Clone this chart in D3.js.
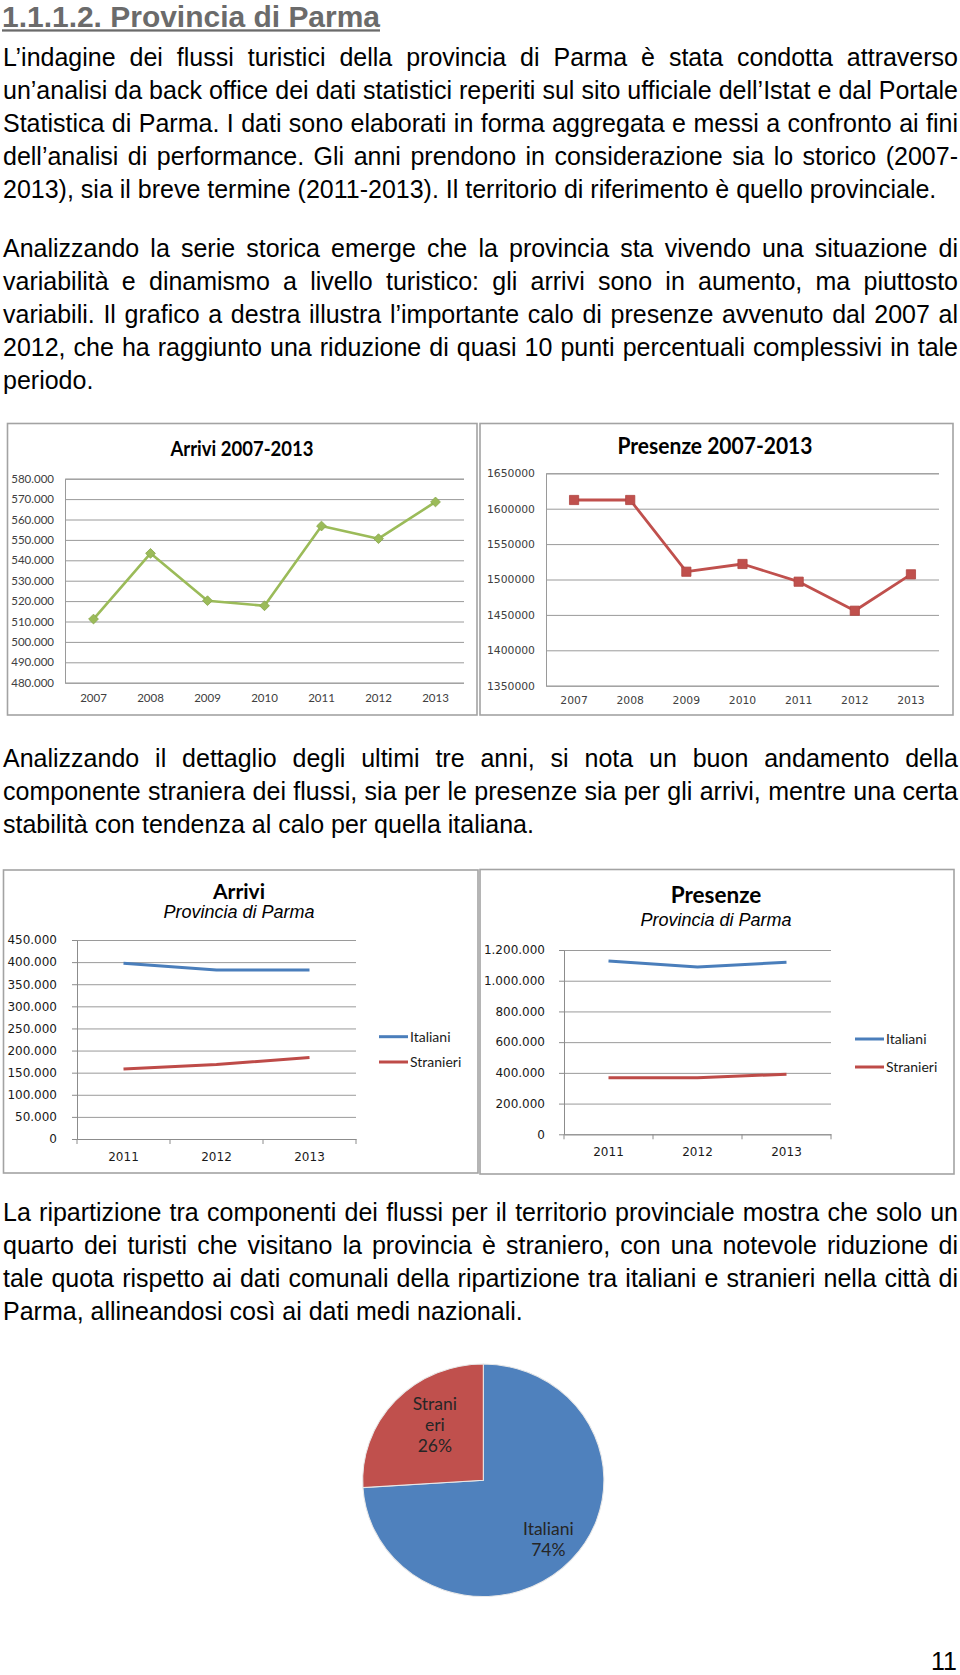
<!DOCTYPE html>
<html><head><meta charset="utf-8">
<script src="https://cdn.jsdelivr.net/npm/d3@7"></script>
<style>body{margin:0;background:#fff} svg{display:block}</style>
</head><body>
<svg id="page" width="960" height="1675"></svg>
<script>
// ---------------- DATA ----------------
const years7 = ["2007","2008","2009","2010","2011","2012","2013"];
const arrivi = [511200, 543400, 520200, 517700, 556800, 550600, 568600];
const presenze = [1612300, 1612300, 1511000, 1521900, 1496900, 1455900, 1507300];
const arriviTicks = [480000,490000,500000,510000,520000,530000,540000,550000,560000,570000,580000];
const presenzeTicks = [1350000,1400000,1450000,1500000,1550000,1600000,1650000];

const years3 = ["2011","2012","2013"];
const seriesNames = ["Italiani","Stranieri"];
const arriviItaliani = [397500, 382000, 382000];
const arriviStranieri = [158500, 168500, 184500];
const presenzeItaliani = [1129000, 1090000, 1120000];
const presenzeStranieri = [368500, 368500, 391000];
const arrivi3Ticks = [0,50000,100000,150000,200000,250000,300000,350000,400000,450000];
const presenze3Ticks = [0,200000,400000,600000,800000,1000000,1200000];

const pieLabels = ["Italiani","Stranieri"];
const pieValues = [74, 26];

const headTitle = "1.1.1.2. Provincia di Parma";
const para1 = [
 "L’indagine dei flussi turistici della provincia di Parma è stata condotta attraverso",
 "un’analisi da back office dei dati statistici reperiti sul sito ufficiale dell’Istat e dal Portale",
 "Statistica di Parma. I dati sono elaborati in forma aggregata e messi a confronto ai fini",
 "dell’analisi di performance. Gli anni prendono in considerazione sia lo storico (2007-",
 "2013), sia il breve termine (2011-2013). Il territorio di riferimento è quello provinciale."];
const para2 = [
 "Analizzando la serie storica emerge che la provincia sta vivendo una situazione di",
 "variabilità e dinamismo a livello turistico: gli arrivi sono in aumento, ma piuttosto",
 "variabili. Il grafico a destra illustra l’importante calo di presenze avvenuto dal 2007 al",
 "2012, che ha raggiunto una riduzione di quasi 10 punti percentuali complessivi in tale",
 "periodo."];
const para3 = [
 "Analizzando il dettaglio degli ultimi tre anni, si nota un buon andamento della",
 "componente straniera dei flussi, sia per le presenze sia per gli arrivi, mentre una certa",
 "stabilità con tendenza al calo per quella italiana."];
const para4 = [
 "La ripartizione tra componenti dei flussi per il territorio provinciale mostra che solo un",
 "quarto dei turisti che visitano la provincia è straniero, con una notevole riduzione di",
 "tale quota rispetto ai dati comunali della ripartizione tra italiani e stranieri nella città di",
 "Parma, allineandosi così ai dati medi nazionali."];
const pageNumber = "11";

// ---------------- DRAW ----------------
const svg = d3.select("#page");
svg.append("rect").attr("width",960).attr("height",1675).attr("fill","#fff");
const itLocale = d3.formatLocale({decimal:",",thousands:".",grouping:[3],currency:["€",""]});
const fmtIt = itLocale.format(",d");
const fmtPlain = d3.format("d");
const BODY = "'Liberation Sans', Arial, sans-serif";
const CAL = "Lato, 'Open Sans', sans-serif";
const VER = "'DejaVu Sans', Verdana, sans-serif";

// heading
const ht = svg.append("text").attr("x",2).attr("y",26.5).attr("font-family",BODY)
  .attr("font-weight","bold").attr("font-size",29).attr("fill","#6b6b6b")
  .attr("textLength",378).attr("lengthAdjust","spacingAndGlyphs").text(headTitle);
svg.append("rect").attr("x",2).attr("y",29.3).attr("width",378).attr("height",2.3).attr("fill","#6b6b6b");

function paragraph(lines, baselines){
  lines.forEach((ln,i)=>{
    const t = svg.append("text").attr("x",3).attr("y",baselines[i])
      .attr("font-family",BODY).attr("font-size",25).attr("fill","#000")
      .style("white-space","pre").text(ln);
    if(i < lines.length-1){
      const w = t.node().getComputedTextLength();
      const n = (ln.match(/ /g)||[]).length;
      if(n>0) t.style("word-spacing", ((955 - w)/n) + "px");
    }
  });
}
paragraph(para1,[65.5,98.6,131.7,164.8,197.9]);
paragraph(para2,[256.5,289.6,322.7,355.8,388.9]);
paragraph(para3,[767,800,833]);
paragraph(para4,[1221,1254,1287,1320]);

svg.append("text").attr("x",957).attr("y",1670).attr("text-anchor","end")
  .attr("font-family",BODY).attr("font-size",25).attr("fill","#000").text(pageNumber);

function frame(g,x0,y0,x1,y1){
  g.append("rect").attr("x",x0).attr("y",y0).attr("width",x1-x0).attr("height",y1-y0)
   .attr("fill","#fff").attr("stroke","#a3a3a3").attr("stroke-width",1.6);
}

// ---- chart 1 & 2: historical series ----
function historyChart(cfg){
  const g = svg.append("g");
  frame(g, ...cfg.frame);
  const [px0,py0,px1,py1] = cfg.plot;
  const x = d3.scaleBand().domain(cfg.cats).range([px0,px1]);
  const y = d3.scaleLinear().domain(cfg.domain).range([py1,py0]);
  const ya = g.append("g").attr("transform",`translate(${px0},0)`)
    .call(d3.axisLeft(y).tickValues(cfg.ticks).tickFormat(cfg.fmt).tickSize(-(px1-px0)).tickPadding(cfg.pad));
  ya.select(".domain").attr("stroke","#9a9a9a");
  ya.selectAll(".tick line").attr("stroke","#9a9a9a");
  ya.selectAll(".tick text").attr("font-family",cfg.tickFont).attr("font-size",cfg.tickSize).attr("fill",cfg.tickColor);
  const xa = g.append("g").attr("transform",`translate(0,${py1})`)
    .call(d3.axisBottom(x).tickSize(0).tickPadding(cfg.xpad));
  xa.select(".domain").remove();
  xa.selectAll(".tick text").attr("font-family",cfg.tickFont).attr("font-size",cfg.tickSize).attr("fill",cfg.tickColor);
  const cx = d => x(d) + x.bandwidth()/2;
  const pts = cfg.cats.map((c,i)=>[cx(c), y(cfg.values[i])]);
  g.append("path").attr("d", d3.line()(pts)).attr("fill","none").attr("stroke",cfg.color)
    .attr("stroke-width",cfg.lw).attr("stroke-linejoin","round");
  g.selectAll(null).data(pts).enter().append("path")
    .attr("d", d3.symbol().type(d3.symbolSquare).size(cfg.msize))
    .attr("transform", d=>`translate(${d[0]},${d[1]}) rotate(${cfg.rot})`)
    .attr("fill",cfg.color).attr("stroke",cfg.mstroke).attr("stroke-width",0.8);
  g.append("text").attr("x",cfg.titlePos[0]).attr("y",cfg.titlePos[1]).attr("text-anchor","middle")
    .attr("font-family",CAL).attr("font-weight",700).attr("font-size",cfg.titleSize).attr("fill","#000")
    .attr("textLength",cfg.titleLen).attr("lengthAdjust","spacingAndGlyphs").text(cfg.title);
}

historyChart({frame:[7.5,423.5,477,715], plot:[65,478.7,464,682.7], cats:years7, values:arrivi,
  domain:[480000,580000], ticks:arriviTicks, fmt:fmtIt, pad:11, xpad:11,
  tickFont:CAL, tickSize:11.5, tickColor:"#404040", color:"#9bbb59", mstroke:"#8aa84e", lw:2.6, msize:48, rot:45,
  title:"Arrivi 2007-2013", titlePos:[242,455.5], titleSize:21, titleLen:143});

historyChart({frame:[480,423.5,953,715], plot:[546,473.3,939,685.7], cats:years7, values:presenze,
  domain:[1350000,1650000], ticks:presenzeTicks, fmt:fmtPlain, pad:11, xpad:11,
  tickFont:VER, tickSize:10.8, tickColor:"#404040", color:"#c0504d", mstroke:"#b04541", lw:2.8, msize:85, rot:0,
  title:"Presenze 2007-2013", titlePos:[715,453.5], titleSize:22, titleLen:195});

// ---- chart 3 & 4: Italiani / Stranieri ----
function compChart(cfg){
  const g = svg.append("g");
  frame(g, ...cfg.frame);
  const [px0,py0,px1,py1] = cfg.plot;
  const x = d3.scaleBand().domain(years3).range([px0,px1]);
  const y = d3.scaleLinear().domain(cfg.domain).range([py1,py0]);
  const grid = g.append("g").attr("transform",`translate(${px0},0)`)
    .call(d3.axisLeft(y).tickValues(cfg.ticks).tickFormat("").tickSize(-(px1-px0)));
  grid.select(".domain").remove();
  grid.selectAll(".tick line").attr("stroke","#9a9a9a");
  const ya = g.append("g").attr("transform",`translate(${px0},0)`)
    .call(d3.axisLeft(y).tickValues(cfg.ticks).tickFormat(fmtIt).tickSizeInner(5).tickSizeOuter(0).tickPadding(cfg.pad));
  ya.select(".domain").attr("stroke","#8c8c8c");
  ya.selectAll(".tick line").attr("stroke","#8c8c8c");
  ya.selectAll(".tick text").attr("font-family",VER).attr("font-size",12).attr("fill","#1a1a1a");
  const xa = g.append("g").attr("transform",`translate(0,${py1})`)
    .call(d3.axisBottom(x).tickSize(0).tickPadding(13));
  xa.select(".domain").attr("stroke","#8c8c8c");
  xa.selectAll(".tick text").attr("font-family",VER).attr("font-size",12).attr("fill","#1a1a1a");
  const edges = years3.map(d=>x(d)).concat([x.range()[1]]);
  xa.selectAll(".edge").data(edges).enter().append("line")
    .attr("x1",d=>d).attr("x2",d=>d).attr("y1",0).attr("y2",5).attr("stroke","#8c8c8c");
  const cx = d => x(d) + x.bandwidth()/2;
  const colors = ["#4a7ebb","#be4b48"];
  [cfg.ita, cfg.str].forEach((vals,si)=>{
    g.append("path").attr("d", d3.line()(years3.map((c,i)=>[cx(c), y(vals[i])])))
      .attr("fill","none").attr("stroke",colors[si]).attr("stroke-width",3).attr("stroke-linejoin","round");
  });
  seriesNames.forEach((nm,si)=>{
    const ly = cfg.legendY[si];
    g.append("line").attr("x1",cfg.legendX).attr("x2",cfg.legendX+29).attr("y1",ly).attr("y2",ly)
      .attr("stroke",colors[si]).attr("stroke-width",3);
    g.append("text").attr("x",cfg.legendX+31).attr("y",ly).attr("dy","0.35em")
      .attr("font-family",CAL).attr("font-size",14).attr("fill","#1a1a1a").text(nm);
  });
  g.append("text").attr("x",cfg.tx).attr("y",cfg.ty1).attr("text-anchor","middle")
    .attr("font-family",CAL).attr("font-weight",700).attr("font-size",cfg.titleSize).attr("fill","#000").text(cfg.title);
  g.append("text").attr("x",cfg.tx).attr("y",cfg.ty2).attr("text-anchor","middle")
    .attr("font-family",BODY).attr("font-style","italic").attr("font-size",18).attr("fill","#000").text("Provincia di Parma");
}

compChart({frame:[3.5,870,478,1173], plot:[77,940,356,1139], domain:[0,450000], ticks:arrivi3Ticks,
  ita:arriviItaliani, str:arriviStranieri, pad:15, legendX:379, legendY:[1036.7,1062],
  title:"Arrivi", tx:239, ty1:898.5, ty2:918.3, titleSize:21});
compChart({frame:[480,869.5,954,1174], plot:[564,950,831,1134.3], domain:[0,1200000], ticks:presenze3Ticks,
  ita:presenzeItaliani, str:presenzeStranieri, pad:14, legendX:855, legendY:[1039,1067],
  title:"Presenze", tx:716, ty1:902.7, ty2:925.7, titleSize:22.5});

// ---- pie ----
const SX = 1.037;
const pg = svg.append("g").attr("transform",`translate(483.3,1480.3) scale(${SX},1)`);
const pie = d3.pie().sort(null).value(d=>d)(pieValues);
const arc = d3.arc().innerRadius(0).outerRadius(116.3);
const pieColors = ["#4f81bd","#c0504d"];
pg.selectAll(null).data(pie).enter().append("path").attr("d",arc)
  .attr("fill",(d,i)=>pieColors[i]).attr("stroke","#e8e8e8").attr("stroke-width",1);
const lg = svg.append("g").attr("transform","translate(483.3,1480.3)");
const labelR = [86, 72];
const labelNudge = [[0,0],[6,-6]];
const labelLines = [[pieLabels[0], pieValues[0]+"%"], ["Strani","eri", pieValues[1]+"%"]];
pie.forEach((d,i)=>{
  const c = d3.arc().innerRadius(labelR[i]).outerRadius(labelR[i]).centroid(d);
  const n = labelLines[i].length;
  labelLines[i].forEach((s,k)=>{
    lg.append("text").attr("x",c[0]*SX + labelNudge[i][0])
      .attr("y",c[1] + labelNudge[i][1] + (k-(n-1)/2)*20.8).attr("dy","0.35em")
      .attr("text-anchor","middle").attr("font-family",CAL).attr("font-size",17.5)
      .attr("fill","#262626").text(s);
  });
});
</script>
</body></html>
